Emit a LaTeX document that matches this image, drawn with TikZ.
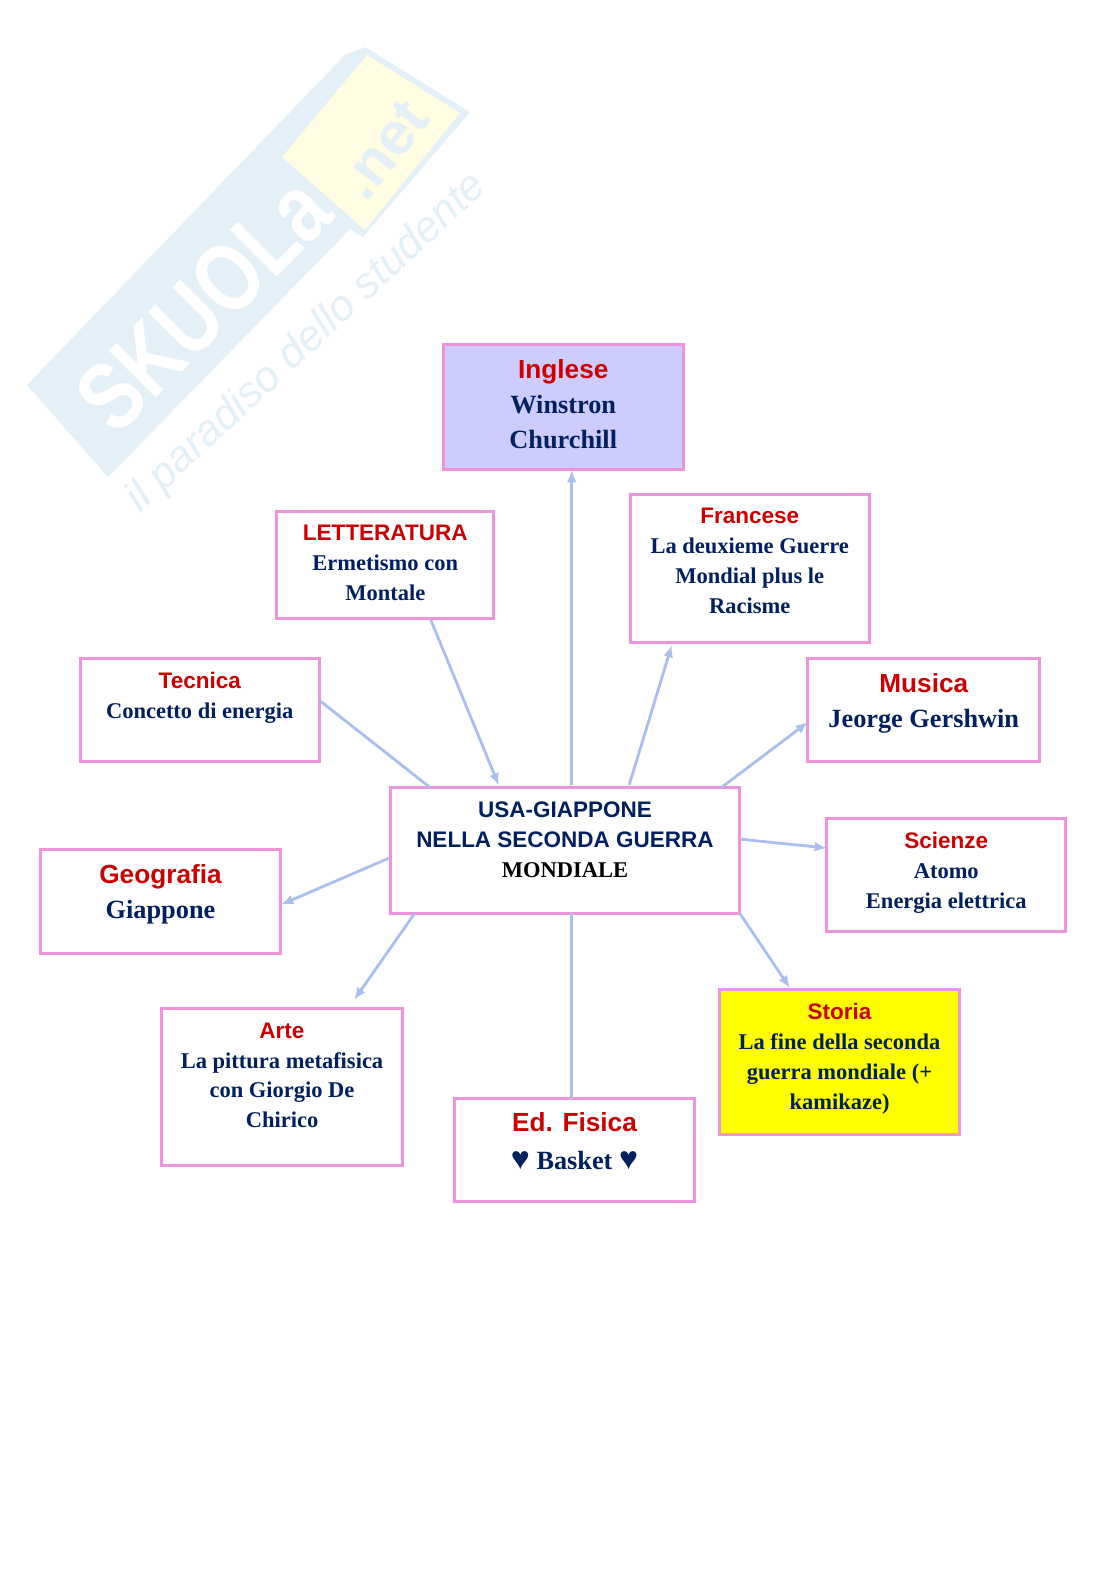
\documentclass[tikz,border=0pt]{standalone}
\usepackage{fontspec}
\setmainfont{Liberation Serif}
\setsansfont{Liberation Sans}
\usetikzlibrary{arrows.meta}
\definecolor{bordo}{HTML}{EE93DC}
\definecolor{freccia}{HTML}{A9BFEF}
\definecolor{rosso}{HTML}{CC0000}
\definecolor{blu}{HTML}{002060}
\definecolor{lilla}{HTML}{CCCCFF}
\definecolor{giallo}{HTML}{FFFF00}
\definecolor{wmblu}{HTML}{E4F0F8}
\definecolor{wmgiallo}{HTML}{FFFDE2}
\tikzset{
  conn/.style={draw=freccia,line width=2.8pt},
  arr/.style={conn,-{Latex[length=12pt,width=10pt]}},
  wmtext/.style={inner sep=0pt,rotate=45,text=wmblu},
}
% name, x1, y1, x2, y2, fill, first-baseline offset, pitch, text
\newcommand{\bx}[9]{%
  \pgfmathsetmacro{\bw}{#4-#2-1.5}\pgfmathsetmacro{\bh}{#5-#3-1.5}%
  \node[draw=bordo,line width=2.8pt,fill=#6,inner sep=0pt,outer sep=0pt,
        minimum width=\bw pt,minimum height=\bh pt]
    (#1) at ({(#2+#4)/2},{(#3+#5)/2})
    {\parbox[c][\bh pt][t]{\bw pt}{\centering\baselineskip=#8pt\lineskiplimit=-20pt\rule{0pt}{#7pt}#9\par}};%
}
\newcommand{\rs}[1]{{\fontsize{22.5}{22.5}\selectfont\sffamily\bfseries\color{rosso}#1}}
\newcommand{\bs}[1]{{\fontsize{22.5}{22.5}\selectfont\bfseries\color{blu}#1}}
\newcommand{\rl}[1]{{\fontsize{26.2}{26.2}\selectfont\sffamily\bfseries\color{rosso}#1}}
\newcommand{\bl}[1]{{\fontsize{26.3}{26.3}\selectfont\bfseries\color{blu}#1}}
\begin{document}
\begin{tikzpicture}[x=1pt,y=-1pt]
\useasboundingbox (0,0) rectangle (1116,1579);
\fill[white] (0,0) rectangle (1116,1579);
% watermark
\fill[wmblu] (27,385) -- (345,55) -- (365,47) -- (470,112) -- (363,237) -- (350,229) -- (108,477) -- cycle;
\fill[wmgiallo] (282,157) -- (367,55) -- (460,113) -- (365,230) -- cycle;
\node[wmtext,text=white,font=\fontsize{96}{96}\selectfont\sffamily\bfseries] (wma) at (203,304) {\scalebox{.8}[1]{SKUOLa}};
\node[wmtext,rotate=7,font=\fontsize{60}{60}\selectfont\sffamily\bfseries] (wmb) at (384,150) {.net};
\node[wmtext,rotate=-2,font=\fontsize{43}{43}\selectfont\sffamily\itshape] (wmc) at (307,343) {il paradiso dello studente};
% boxes
\bx{ing}{442.5}{344}{684}{470}{lilla}{34}{35}{\rl{Inglese}\\\bl{Winstron}\\\bl{Churchill}}
\bx{let}{276}{510.5}{494.5}{619.5}{white}{29.5}{30}{\rs{LETTERATURA}\\\bs{Ermetismo con}\\\bs{Montale}}
\bx{fra}{629.5}{493.5}{870}{643.5}{white}{29.5}{30}{\rs{Francese}\\\bs{La deuxieme Guerre}\\\bs{Mondial plus le}\\\bs{Racisme}}
\bx{tec}{79.5}{658}{320}{762.5}{white}{30}{30}{\rs{Tecnica}\\\bs{Concetto di energia}}
\bx{mus}{807}{658}{1040.5}{762.5}{white}{34}{35}{\rl{Musica}\\\bl{Jeorge Gershwin}}
\bx{usa}{389.5}{786.5}{740.5}{914}{white}{30}{30}{\rs{\color{blu}USA-GIAPPONE}\\\rs{\color{blu}NELLA SECONDA GUERRA}\\{\fontsize{22.5}{22.5}\selectfont\bfseries MONDIALE}}
\bx{sci}{826}{818}{1066.5}{932}{white}{30}{30}{\rs{Scienze}\\\bs{Atomo}\\\bs{Energia elettrica}}
\bx{geo}{40}{849}{281}{954}{white}{34}{35}{\rl{Geografia}\\\bl{Giappone}}
\bx{art}{161}{1008}{403}{1166}{white}{30}{29.5}{\rs{Arte}\\\bs{La pittura metafisica}\\\bs{con Giorgio De}\\\bs{Chirico}}
\bx{sto}{719}{989}{960}{1135}{giallo}{30}{30}{\rs{Storia}\\\bs{La fine della seconda}\\\bs{guerra mondiale (+}\\\bs{kamikaze)}}
\bx{edf}{454}{1098}{695}{1202}{white}{33}{38}{\rl{Ed. Fisica}\\\bl{{\fontsize{32}{32}\selectfont ♥} Basket {\fontsize{32}{32}\selectfont ♥}}}
% connectors
\draw[arr] ([xshift=181.5pt,yshift=2pt]usa.north west) -- ([xshift=128.5pt,yshift=-1pt]ing.south west);
\draw[arr] ([xshift=154pt,yshift=-1pt]let.south west) -- ([xshift=108.5pt,yshift=2pt]usa.north west);
\draw[conn] ([yshift=10pt]tec.east) -- ([xshift=39.5pt]usa.north west);
\draw[arr] ([xshift=239pt,yshift=2.5pt]usa.north west) -- ([xshift=41.5pt,yshift=-2.5pt]fra.south west);
\draw[arr] ([xshift=331.5pt]usa.north west) -- ([yshift=-12pt]mus.west);
\draw[arr] ([xshift=1.5pt,yshift=11pt]usa.east) -- ([yshift=27pt]sci.west);
\draw[arr] (usa.south east) -- ([xshift=70pt,yshift=2pt]sto.north west);
\draw[conn] ([xshift=181.5pt]usa.south west) -- ([xshift=117pt]edf.north west);
\draw[arr] ([xshift=24.5pt]usa.south west) -- ([xshift=192.5pt,yshift=9pt]art.north west);
\draw[arr] ([yshift=-8pt,xshift=-1.5pt]usa.west) -- ([xshift=1pt,yshift=-3pt]geo.east);
\end{tikzpicture}
\end{document}
